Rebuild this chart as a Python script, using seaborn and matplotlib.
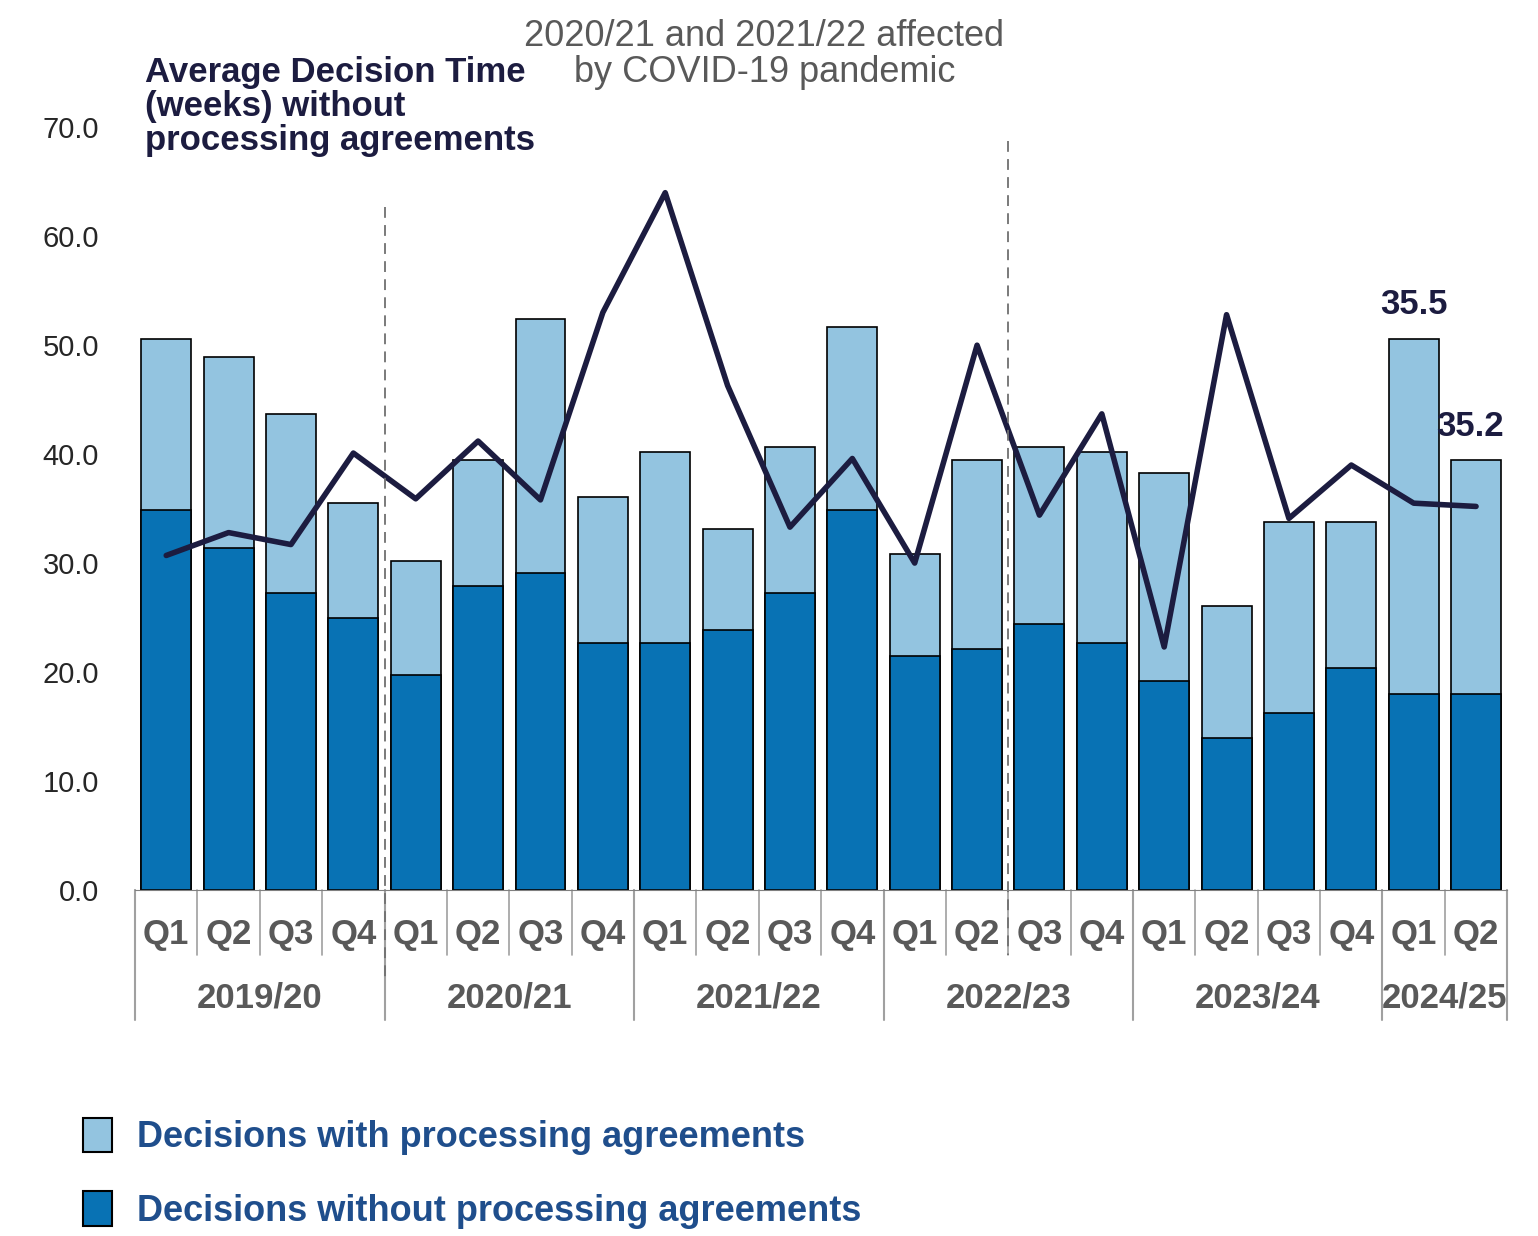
import numpy as np
import pandas as pd
import matplotlib.pyplot as plt
import matplotlib.transforms as mtransforms
from matplotlib.patches import Patch
import seaborn as sns

quarters = ['Q1', 'Q2', 'Q3', 'Q4'] * 5 + ['Q1', 'Q2']
years = ['2019/20', '2020/21', '2021/22', '2022/23', '2023/24', '2024/25']
without_pa = [34.9, 31.4, 27.3, 25.0, 19.7, 27.9, 29.1, 22.7, 22.7, 23.9, 27.3, 34.9,
              21.5, 22.1, 24.4, 22.7, 19.2, 13.9, 16.2, 20.4, 18.0, 18.0]
total = [50.6, 48.9, 43.7, 35.5, 30.2, 39.5, 52.4, 36.1, 40.2, 33.1, 40.7, 51.7,
         30.8, 39.5, 40.7, 40.2, 38.3, 26.1, 33.8, 33.8, 50.6, 39.5]
avg_weeks = [30.7, 32.8, 31.7, 40.1, 35.9, 41.2, 35.8, 53.0, 64.0, 46.3, 33.3, 39.6,
             30.0, 50.0, 34.4, 43.7, 22.3, 52.8, 34.1, 39.0, 35.5, 35.2]

sns.set_style('white')
plt.rcParams['font.family'] = ['Liberation Sans', 'DejaVu Sans']

light, dark, navy = '#93C4E0', '#0872B4', '#1C1C40'
df = pd.DataFrame({'x': range(len(total)), 'total': total, 'without': without_pa, 'avg': avg_weeks})

fig = plt.figure(figsize=(15.38, 12.36), dpi=100)
ax = fig.add_axes([0.0878, 0.28, 0.8922, 0.617])

sns.barplot(data=df, x='x', y='total', color=light, edgecolor='black', linewidth=1.2,
            width=0.8, saturation=1, ax=ax)
sns.barplot(data=df, x='x', y='without', color=dark, edgecolor='black', linewidth=1.2,
            width=0.8, saturation=1, ax=ax)
sns.lineplot(data=df, x='x', y='avg', color=navy, linewidth=4, ax=ax)

ax.set_xlim(-0.5, 21.5)
ax.set_ylim(0, 70)
ax.set_yticks(np.arange(0, 71, 10))
ax.set_yticklabels([f'{v:.1f}' for v in np.arange(0, 71, 10)], fontsize=21)
ax.set_xticks([])
ax.set_xlabel('')
ax.set_ylabel('')
for s in ['top', 'right', 'left']:
    ax.spines[s].set_visible(False)
ax.spines['bottom'].set_color('#808080')
ax.tick_params(axis='y', length=0, pad=26)

trans = mtransforms.blended_transform_factory(ax.transData, ax.transAxes)
for i, q in enumerate(quarters):
    ax.text(i, -0.059, q, transform=trans, ha='center', va='center', fontsize=25,
            fontweight='bold', color='#595959')
    ax.plot([i - 0.5, i - 0.5], [0, -0.085], transform=trans, color='#A0A0A0',
            lw=1.2, clip_on=False)
for k, y in enumerate(years):
    start = k * 4 - 0.5
    end = min(start + 4, 21.5)
    ax.text((start + end) / 2, -0.142, y, transform=trans, ha='center', va='center',
            fontsize=25, fontweight='bold', color='#595959')
    ax.plot([start, start], [0, -0.17], transform=trans, color='#A0A0A0', lw=1.5, clip_on=False)
ax.plot([21.5, 21.5], [0, -0.17], transform=trans, color='#A0A0A0', lw=1.5, clip_on=False)

# COVID period markers
ax.plot([3.5, 3.5], [0.895, -0.118], transform=trans, color='#707070', lw=1.3,
        ls=(0, (6, 4)), clip_on=False)
ax.plot([13.5, 13.5], [0.982, -0.085], transform=trans, color='#707070', lw=1.3,
        ls=(0, (6, 4)), clip_on=False)

ax.text(20, 52.2, '35.5', ha='center', va='bottom', fontsize=25, fontweight='bold', color=navy)
ax.text(20.9, 41.0, '35.2', ha='center', va='bottom', fontsize=25, fontweight='bold', color=navy)

fig.text(0.094, 0.955, 'Average Decision Time\n(weeks) without\nprocessing agreements',
         ha='left', va='top', fontsize=25, fontweight='bold', color=navy, linespacing=1.05)
fig.text(0.497, 0.985, '2020/21 and 2021/22 affected\nby COVID-19 pandemic',
         ha='center', va='top', fontsize=26, color='#595959', linespacing=1.05)

handles = [Patch(facecolor=light, edgecolor='black', lw=1.5, label='Decisions with processing agreements'),
           Patch(facecolor=dark, edgecolor='black', lw=1.5, label='Decisions without processing agreements')]
leg = fig.legend(handles=handles, loc='upper left', bbox_to_anchor=(0.033, 0.122), frameon=False,
                 fontsize=26, handlelength=0.8, handleheight=1.1, labelspacing=1.0, handletextpad=0.7)
for t in leg.get_texts():
    t.set_color('#1F4E8C')
    t.set_fontweight('bold')

plt.savefig('out.png', dpi=100)
